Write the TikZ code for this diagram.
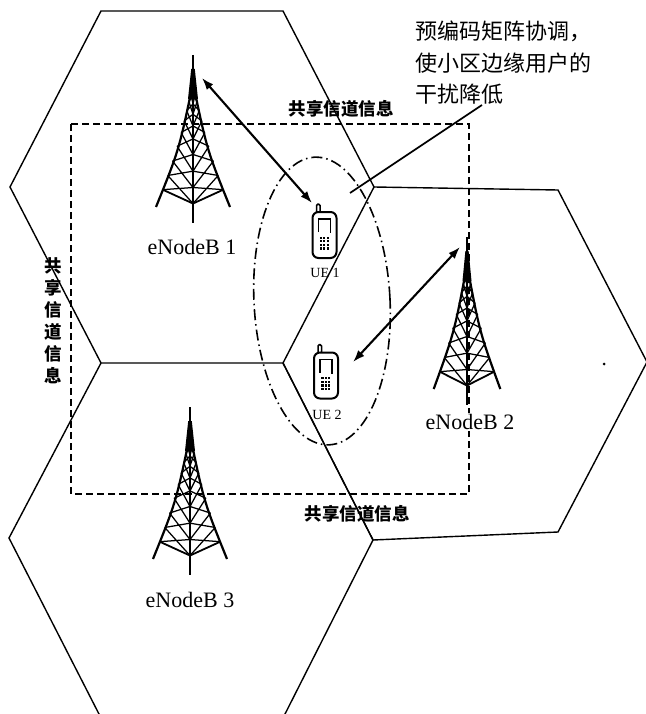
\documentclass[tikz,border=0pt]{standalone}
\usepackage{fontspec}
\setmainfont{Liberation Serif}
\newfontfamily\cjk{Noto Sans CJK SC}
\usetikzlibrary{arrows.meta}

\tikzset{
  % lattice radio mast, tip at the origin, y pointing down
  pics/tower/.style={code={
    \draw[line width=1.5pt] (0,0) -- (0,168);
    \fill (-1.8,14) -- (1.8,14) -- (5,44) -- (-5,44) -- cycle;
    \draw[line width=2.2pt] (0,28) .. controls (-14,95) .. (-37,152);
    \draw[line width=2.2pt] (0,28) .. controls (14,95) .. (37,152);
    \foreach \ta/\tb in {0.08/0.14,0.14/0.21,0.21/0.29,0.29/0.38,0.38/0.49,0.49/0.61,0.61/0.73,0.73/0.85} {
      \pgfmathsetmacro\xa{28*\ta*(1-\ta)+37*\ta*\ta}
      \pgfmathsetmacro\ya{28+134*\ta-10*\ta*\ta}
      \pgfmathsetmacro\ma{\ya+0.13*(\ya-28)}
      \pgfmathsetmacro\xb{28*\tb*(1-\tb)+37*\tb*\tb}
      \pgfmathsetmacro\yb{28+134*\tb-10*\tb*\tb}
      \pgfmathsetmacro\mb{\yb+0.13*(\yb-28)}
      \draw[line width=1.25pt] (-\xa,\ya) -- (0,\mb) (\xa,\ya) -- (0,\mb)
                               (0,\ma) -- (-\xb,\yb) (0,\ma) -- (\xb,\yb);
    }
    \pgfmathsetmacro\xb{28*0.85*0.15+37*0.85*0.85}
    \pgfmathsetmacro\yb{28+134*0.85-10*0.85*0.85}
    \pgfmathsetmacro\mb{\yb+0.13*(\yb-28)}
    \draw[line width=1.8pt] (-\xb,\yb) -- (0,\mb) -- (\xb,\yb);
  }},
  % mobile handset, body centred at the origin
  pics/handset/.style={code={
    \draw[line width=1.5pt, rounded corners=1.5pt] (-8,-31) rectangle (-4.5,-22);
    \draw[line width=2pt, rounded corners=6pt, fill=white] (-12,-23) rectangle (12,23);
    \draw[line width=1.1pt] (-6,-3) -- (-6,-16) -- (6,-16) -- (6,-2);
    \foreach \i in {0,1,2} \foreach \j in {0,1,2,3}
      \fill (-4.8+\i*3.4,1.5+\j*3.6) rectangle ++(2.3,2.3);
  }}
}

\begin{document}
\begin{tikzpicture}[x=1pt,y=-1pt,
  cell/.style={line width=1.4pt, line join=miter},
  share/.style={line width=1.8pt, dash pattern=on 7pt off 4pt},
  zone/.style={line width=1.6pt, dash pattern=on 11pt off 4pt on 1.5pt off 4pt},
  link/.style={line width=2.1pt, {Latex[length=12pt,width=8.5pt]}-{Latex[length=12pt,width=8.5pt]}},
  pointer/.style={line width=1.7pt},
  bslabel/.style={font=\fontsize{22}{24}\selectfont, inner sep=1pt},
  uelabel/.style={font=\fontsize{14}{16}\selectfont, inner sep=0pt},
  sharelabel/.style={font=\cjk\bfseries\fontsize{17.5}{22}\selectfont, inner sep=0pt},
  note/.style={font=\cjk\fontsize{22}{31.5}\selectfont, align=left, inner sep=0pt},
]
\useasboundingbox (0,0) rectangle (645,714);

% three hexagonal cells
\draw[cell] (101,11) -- (283,11) -- (374,187) -- (283,363) -- (101,363) -- (10,187) -- cycle;
\draw[cell] (374,187) -- (558,190) -- (647,362) -- (558,532) -- (373,540) -- (283,363);
\draw[cell] (283,363) -- (373,540) -- (284,716) -- (100,716) -- (9,538) -- (101,363);

% shared channel information loop and cell-edge zone
\draw[share] (71,124) rectangle (469,494);
\draw[zone, rotate around={3:(322,301)}] (322,301) ellipse [x radius=68pt, y radius=144pt];

% base stations
\pic at (193,55) {tower};
\pic[xscale=0.9] at (467,237) {tower};
\pic at (190,407) {tower};

% user equipment
\pic at (324.5,235) {handset};
\pic at (326,375.5) {handset};

% labels
\node[bslabel] (bs1) at (192,247) {eNodeB 1};
\node[bslabel, fill=white] (bs2) at (470,422) {eNodeB 2};
\node[bslabel] (bs3) at (190,600) {eNodeB 3};
\node[uelabel] (ue1) at (325,273) {UE 1};
\node[uelabel] (ue2) at (327,415) {UE 2};

\node[sharelabel] (shareN) at (341,109) {共享信道信息};
\node[sharelabel] (shareS) at (357,514) {共享信道信息};
\node[sharelabel, align=center] (shareW) at (53,321) {共\\享\\信\\道\\信\\息};

\node[note, anchor=north west] (note) at (415,21) {预编码矩阵协调，\\使小区边缘用户的\\干扰降低};

% radio links
\coordinate (bs1tip) at (202,78);
\coordinate (ue1tip) at (312,203);
\coordinate (bs2tip) at (460,247);
\coordinate (ue2tip) at (353,362);
\draw[link] (bs1tip) -- (ue1tip);
\draw[link] (bs2tip) -- (ue2tip);

% pointer from the note into the cell-edge zone
\coordinate (notefoot) at (482,105);
\coordinate (zonemark) at (350,193);
\draw[pointer] (notefoot) -- (zonemark);

\fill (604,364) circle (1.5pt);
\end{tikzpicture}
\end{document}
